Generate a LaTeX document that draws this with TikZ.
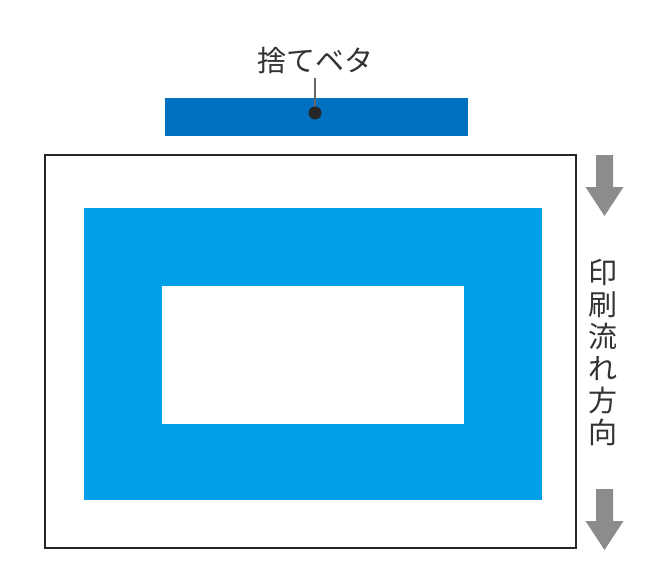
\documentclass[tikz,border=0pt]{standalone}
\usepackage{fontspec}
\newfontfamily\cjk{Noto Sans CJK JP}
\definecolor{barblue}{HTML}{0070C0}
\definecolor{cyanblue}{HTML}{00A0E9}
\definecolor{arrgray}{HTML}{8C8C8C}
\tikzset{
  arrowfill/.style={fill=arrgray, draw=none},
  lbl/.style={font=\cjk\fontsize{29}{29}\selectfont, text=black!80, inner sep=0pt}
}
\newcommand{\flowarrow}[2]{% x center, top y
  \fill[arrowfill] (#1-8.5,#2) -- (#1+8.5,#2) -- (#1+8.5,#2+32) -- (#1+19,#2+32)
    -- (#1,#2+61) -- (#1-19,#2+32) -- (#1-8.5,#2+32) -- cycle;}
\begin{document}
\begin{tikzpicture}[x=1pt,y=-1pt]
\useasboundingbox (0,0) rectangle (666,581);
% outer sheet
\draw[line width=1.3pt, draw=black!85] (45,155) rectangle (576,548);
% cyan frame
\fill[cyanblue] (84,208) rectangle (542,500);
\fill[white] (162,286) rectangle (464,424);
% top bar
\fill[barblue] (165,98) rectangle (468,136);
\node[lbl] (lab) at (315,60) {捨てベタ};
\coordinate (dot) at (315,113);
\draw[line width=1.2pt, draw=black!60] (315,78) -- (dot);
\fill[black!85] (dot) circle (6.5pt);
% arrows
\flowarrow{604.5}{155}
\flowarrow{604.5}{489}
% vertical text
\node[lbl, align=center, font=\cjk\fontsize{29}{32}\selectfont] (vt) at (603,353) {印\\刷\\流\\れ\\方\\向};
\end{tikzpicture}
\end{document}
